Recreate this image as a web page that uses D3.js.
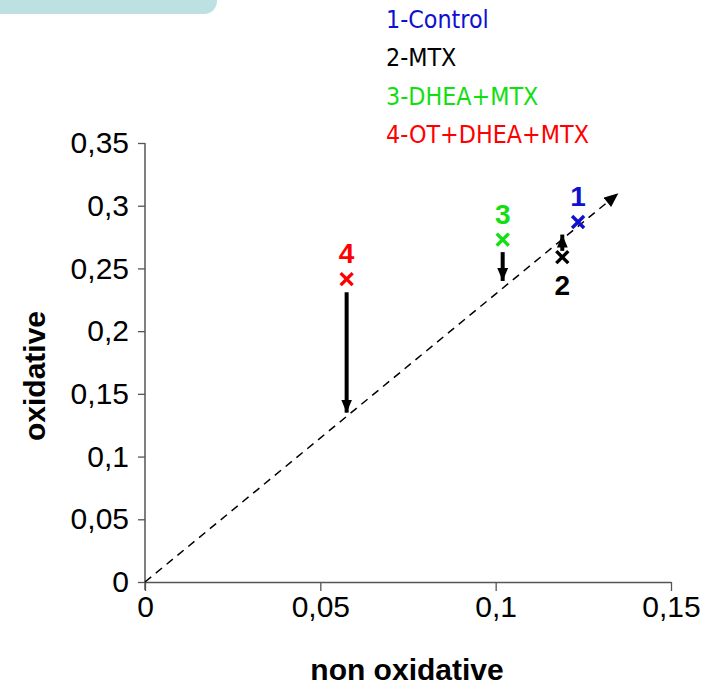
<!DOCTYPE html>
<html>
<head>
<meta charset="utf-8">
<script src="https://cdn.jsdelivr.net/npm/d3@7"></script>
<style>
  body { margin: 0; background: #fff; }
  svg { display: block; }
</style>
</head>
<body>
<div id="chart"></div>
<script>
// groups, points (non oxidative, oxidative)
const groups = ["1", "2", "3", "4"];
const legendLabels = ["1-Control", "2-MTX", "3-DHEA+MTX", "4-OT+DHEA+MTX"];
const colors = ["#1010d0", "#000000", "#10e010", "#ff0000"];
const xValues = [0.1235, 0.119, 0.102, 0.0575];
const yValues = [0.287, 0.259, 0.273, 0.2415];
// label above (-1) or below (+1) the point
const labelSide = [-1, 1, -1, -1];

// arrows toward the dashed line: x, y start, y end
const arrowX = [0.119, 0.102, 0.0575];
const arrowFrom = [0.264, 0.263, 0.231];
const arrowTo = [0.277, 0.240, 0.135];

// dashed reference line
const refLine = [[0, 0], [0.135, 0.310]];

const xTicks = [0, 0.05, 0.1, 0.15];
const yTicks = [0, 0.05, 0.1, 0.15, 0.2, 0.25, 0.3, 0.35];

const width = 712, height = 688;
const fmt = d => String(d).replace(".", ",");
const arial = "'Liberation Sans', Arial, sans-serif";

const svg = d3.select("#chart").append("svg")
    .attr("width", width)
    .attr("height", height);

// banner in the top left corner
svg.append("path")
    .attr("d", "M0,0 H217 V1 A13,13 0 0 1 204,14 H0 Z")
    .attr("fill", "#bde0e3");

const x = d3.scaleLinear().domain([0, 0.15]).range([145, 671]);
const y = d3.scaleLinear().domain([0, 0.35]).range([582, 143]);

const defs = svg.append("defs");
defs.append("marker")
    .attr("id", "head-thin")
    .attr("viewBox", "0 -5 12 10")
    .attr("refX", 12)
    .attr("refY", 0)
    .attr("markerUnits", "userSpaceOnUse")
    .attr("markerWidth", 15)
    .attr("markerHeight", 12)
    .attr("orient", "auto")
    .append("path")
    .attr("d", "M0,-5 L12,0 L0,5 Z")
    .attr("fill", "#000");

defs.append("marker")
    .attr("id", "head-thick")
    .attr("viewBox", "0 -5 12 10")
    .attr("refX", 12)
    .attr("refY", 0)
    .attr("markerUnits", "userSpaceOnUse")
    .attr("markerWidth", 13)
    .attr("markerHeight", 11)
    .attr("orient", "auto")
    .append("path")
    .attr("d", "M0,-5 L12,0 L0,5 Z")
    .attr("fill", "#000");

// axes
const xAxis = svg.append("g")
    .attr("transform", `translate(0,${y(0)})`)
    .call(d3.axisBottom(x).tickValues(xTicks).tickFormat(fmt).tickSize(9).tickSizeOuter(0));

const yAxis = svg.append("g")
    .attr("transform", `translate(${x(0)},0)`)
    .call(d3.axisLeft(y).tickValues(yTicks).tickFormat(fmt).tickSize(7).tickSizeOuter(0));

[xAxis, yAxis].forEach(g => {
    g.select(".domain").attr("stroke", "#555").attr("stroke-width", 1.5);
    g.selectAll(".tick line").attr("stroke", "#555").attr("stroke-width", 1.3);
    g.selectAll(".tick text")
        .attr("fill", "#000")
        .style("font-family", arial)
        .style("font-size", "30px");
});
xAxis.selectAll(".tick text").attr("y", 14);
yAxis.selectAll(".tick text").attr("x", -16);

// y axis crosses slightly below zero like the original
yAxis.select(".domain").attr("d", `M0,${y(0.35)}V${y(0) + 8}`);

// axis titles
svg.append("text")
    .attr("x", 407)
    .attr("y", 680)
    .attr("text-anchor", "middle")
    .style("font-family", arial)
    .style("font-size", "30px")
    .style("font-weight", "bold")
    .text("non oxidative");

svg.append("text")
    .attr("transform", "translate(45,376) rotate(-90)")
    .attr("text-anchor", "middle")
    .style("font-family", arial)
    .style("font-size", "30px")
    .style("font-weight", "bold")
    .text("oxidative");

// dashed line
svg.append("line")
    .attr("x1", x(refLine[0][0]))
    .attr("y1", y(refLine[0][1]))
    .attr("x2", x(refLine[1][0]))
    .attr("y2", y(refLine[1][1]))
    .attr("stroke", "#000")
    .attr("stroke-width", 1.5)
    .attr("stroke-dasharray", "8,6")
    .attr("marker-end", "url(#head-thin)");

// arrows
svg.selectAll(".arrow")
    .data(arrowX)
    .enter().append("line")
    .attr("class", "arrow")
    .attr("x1", d => x(d))
    .attr("x2", d => x(d))
    .attr("y1", (d, i) => y(arrowFrom[i]))
    .attr("y2", (d, i) => y(arrowTo[i]))
    .attr("stroke", "#000")
    .attr("stroke-width", 4)
    .attr("marker-end", "url(#head-thick)");

// point markers
const pts = svg.selectAll(".pt")
    .data(groups)
    .enter().append("g")
    .attr("class", "pt")
    .attr("transform", (d, i) => `translate(${x(xValues[i])},${y(yValues[i])})`);

pts.append("path")
    .attr("d", "M-6,-6 L6,6 M-6,6 L6,-6")
    .attr("stroke", (d, i) => colors[i])
    .attr("stroke-width", 3.4)
    .attr("fill", "none");

pts.append("text")
    .attr("y", (d, i) => labelSide[i] < 0 ? -16 : 38)
    .attr("text-anchor", "middle")
    .attr("fill", (d, i) => colors[i])
    .style("font-family", arial)
    .style("font-size", "28px")
    .style("font-weight", "bold")
    .text(d => d);

// legend
svg.selectAll(".legend")
    .data(legendLabels)
    .enter().append("text")
    .attr("class", "legend")
    .attr("x", 386)
    .attr("y", (d, i) => 28 + i * 38.3)
    .attr("fill", (d, i) => colors[i])
    .style("font-family", "'DejaVu Sans Condensed', 'DejaVu Sans', sans-serif")
    .style("font-stretch", "condensed")
    .style("font-size", "24.8px")
    .text(d => d);
</script>
</body>
</html>
